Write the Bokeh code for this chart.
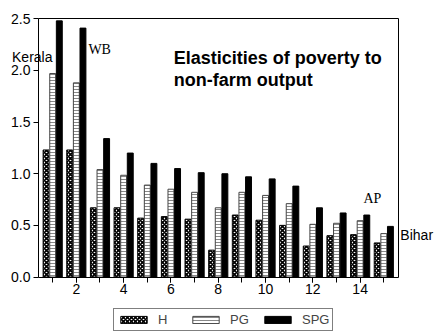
from bokeh.plotting import figure
from bokeh.models import (ColumnDataSource, Range1d, FixedTicker, PrintfTickFormatter,
                          Legend, LegendItem, Label, LinearAxis)
from bokeh.transform import dodge
from bokeh.embed import file_html
from bokeh.resources import INLINE

groups = list(range(1, 16))
H   = [1.23, 1.23, 0.67, 0.67, 0.57, 0.585, 0.56, 0.26, 0.60, 0.55, 0.50, 0.30, 0.40, 0.41, 0.33]
PG  = [1.97, 1.88, 1.04, 0.985, 0.89, 0.85, 0.82, 0.67, 0.82, 0.79, 0.71, 0.51, 0.52, 0.545, 0.42]
SPG = [2.48, 2.41, 1.34, 1.20, 1.10, 1.05, 1.01, 1.00, 0.97, 0.95, 0.88, 0.67, 0.62, 0.60, 0.49]
x_ticks = [2, 4, 6, 8, 10, 12, 14]
y_ticks = [0.0, 0.5, 1.0, 1.5, 2.0, 2.5]

# axis box limits (data units)
XL, XR, YB, YT = 0.4, 15.6, 0.0, 2.5

src = ColumnDataSource(dict(g=groups, H=H, PG=PG, SPG=SPG))

W, Hh = 439, 336
sx = 359.5 / (XR - XL)        # px per x unit
sy = 258.2 / (YT - YB)        # px per y unit
x0 = XL - 38 / sx
x1 = x0 + W / sx
y1 = YT + 18.3 / sy
y0 = y1 - Hh / sy

p = figure(width=W, height=Hh, output_backend="svg", toolbar_location=None,
           x_range=Range1d(x0, x1), y_range=Range1d(y0, y1),
           min_border=0, x_axis_location=None, y_axis_location=None)
p.background_fill_color = "white"
p.border_fill_color = "white"
p.outline_line_color = None
p.grid.visible = False

bw = 0.25
r1 = p.vbar(x=dodge("g", -0.28, range=p.x_range), top="H", width=bw, source=src,
            fill_color="white", line_color="black", line_width=1,
            hatch_pattern="x", hatch_color="black", hatch_scale=4, hatch_weight=1.6)
r2 = p.vbar(x=dodge("g", 0.0, range=p.x_range), top="PG", width=bw, source=src,
            fill_color="white", line_color="#444444", line_width=1,
            hatch_pattern="-", hatch_color="#888888", hatch_scale=3, hatch_weight=1)
r3 = p.vbar(x=dodge("g", 0.28, range=p.x_range), top="SPG", width=bw, source=src,
            fill_color="black", line_color="black", line_width=1)

font = "Liberation Sans"

def style_axis(ax):
    ax.axis_line_color = "black"
    ax.major_tick_line_color = "black"
    ax.minor_tick_line_color = "black"
    ax.major_tick_in = 0
    ax.major_tick_out = 5
    ax.minor_tick_in = 0
    ax.minor_tick_out = 5
    ax.major_label_text_font = font
    ax.major_label_text_font_size = "14px"
    ax.major_label_text_color = "black"

xa = LinearAxis(ticker=FixedTicker(ticks=x_ticks, minor_ticks=groups),
                fixed_location=YB, bounds=(XL, XR), major_label_standoff=2)
style_axis(xa)
p.add_layout(xa, "below")

ya = LinearAxis(ticker=FixedTicker(ticks=y_ticks, minor_ticks=[]),
                formatter=PrintfTickFormatter(format="%.1f"),
                fixed_location=XL, bounds=(YB, YT), major_label_standoff=3)
style_axis(ya)
p.add_layout(ya, "left")

def frame_axis(loc, bounds, ticks, side):
    ax = LinearAxis(ticker=FixedTicker(ticks=ticks, minor_ticks=[]), fixed_location=loc,
                    bounds=bounds, axis_line_color="black", axis_line_width=1,
                    major_tick_in=0, major_tick_out=0, minor_tick_in=0, minor_tick_out=0,
                    major_label_text_color=None, major_label_text_font_size="1px")
    p.add_layout(ax, side)

frame_axis(YT, (XL, XR), [XL, XR], "above")
frame_axis(XR, (YB, YT), [YB, YT], "right")

legend = Legend(items=[LegendItem(label="H", renderers=[r1]),
                       LegendItem(label="PG", renderers=[r2]),
                       LegendItem(label="SPG", renderers=[r3])],
                orientation="horizontal", location=(113, 5))
legend.label_text_font = font
legend.label_text_font_size = "13px"
legend.glyph_width = 33
legend.glyph_height = 9
legend.label_standoff = 8
legend.spacing = 11
legend.padding = 3
legend.label_height = 10
legend.margin = 0
legend.border_line_color = "black"
legend.border_line_width = 1
legend.background_fill_color = "white"
p.add_layout(legend)

def lab(x, y, t, f=font, size="14px", style="normal"):
    p.add_layout(Label(x=x, y=y, text=t, text_font=f, text_font_size=size,
                       text_font_style=style, text_align="left",
                       text_baseline="alphabetic", text_color="black"))

lab(6.12, 2.122, "Elasticities of poverty to", size="18px", style="bold")
lab(6.12, 1.912, "non-farm output", size="18px", style="bold")
lab(-0.72, 2.126, "Kerala", size="14px")
lab(2.51, 2.20, "WB", f="Liberation Serif", size="14px")
lab(14.14, 0.757, "AP", f="Liberation Serif", size="14px")
lab(15.70, 0.402, "Bihar", size="14px")

open("out.html", "w").write(file_html(p, INLINE))
